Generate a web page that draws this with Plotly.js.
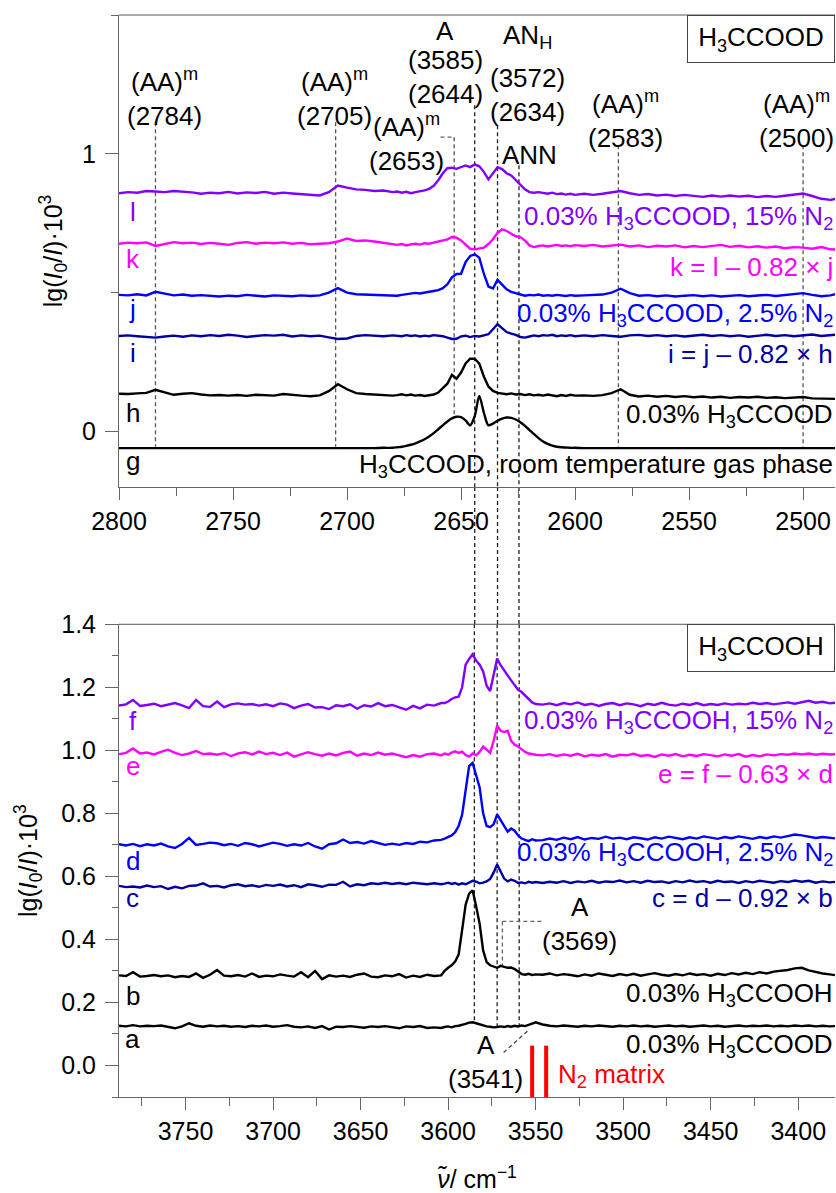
<!DOCTYPE html>
<html>
<head>
<meta charset="utf-8">
<script src="https://cdn.plot.ly/plotly-3.0.1.min.js"></script>
<style>html,body{margin:0;padding:0;background:#fff;}#chart{width:836px;height:1193px;}</style>
</head>
<body>
<div id="chart"></div>
<script>
// ---------- wavenumber grids (cm^-1) ----------
const WN_TOP = [2800,2796,2792,2788,2784,2780,2776,2772,2768,2764,2760,2756,2752,2748,2744,2740,2736,2732,2728,2724,2720,2716,2712,2708,2704,2700,2696,2692,2688,2684,2680,
  2678,2676,2674,2672,2670,2668,2666,2664,2662,2660,2658,2656,2654,2652,2650,2648,2646,2644,2642,2640,2638,2636,2634,2632,2630,2628,2626,2624,2622,2620,2618,2616,2614,2612,2610,2608,2606,2604,2602,2600,
  2596,2592,2588,2584,2580,2576,2572,2568,2564,2560,2556,2552,2548,2544,2540,2536,2532,2528,2524,2520,2516,2512,2508,2504,2500,2496,2492,2488,2484];
const WN_BOT = [3788,3784,3780,3776,3772,3768,3764,3760,3756,3752,3748,3744,3740,3736,3732,3728,3724,3720,3716,3712,3708,3704,3700,3696,3692,3688,3684,3680,3676,3672,3668,3664,3660,3656,3652,3648,3644,3640,3636,3632,3628,3624,3620,3616,3612,3608,3604,
  3602,3600,3598,3596,3594,3592,3590,3588,3586,3584,3582,3580,3578,3576,3574,3572,3570,3568,3566,3564,3562,3560,3558,3556,3554,3552,3550,
  3546,3542,3538,3534,3530,3526,3522,3518,3514,3510,3506,3502,3498,3494,3490,3486,3482,3478,3474,3470,3466,3462,3458,3454,3450,3446,3442,3438,3434,3430,3426,3422,3418,3414,3410,3406,3402,3398,3394,3390,3386,3382,3378];

// ---------- H3CCOOD spectra (top panel) ----------
const SPEC_L = [0.858,0.862,0.860,0.866,0.864,0.862,0.866,0.864,0.861,0.856,0.860,0.858,0.863,0.857,0.861,0.859,0.863,0.856,0.860,0.857,0.855,0.853,0.850,0.862,0.886,0.878,0.872,0.870,0.866,0.868,0.862,
  0.864,0.860,0.863,0.858,0.862,0.865,0.868,0.874,0.885,0.905,0.930,0.948,0.950,0.946,0.952,0.958,0.952,0.962,0.955,0.935,0.908,0.930,0.952,0.945,0.930,0.922,0.905,0.890,0.872,0.862,0.860,0.862,0.858,0.856,0.860,0.855,0.857,0.853,0.856,0.852,
  0.856,0.852,0.856,0.862,0.866,0.858,0.852,0.855,0.850,0.853,0.848,0.852,0.849,0.845,0.850,0.846,0.850,0.846,0.849,0.844,0.848,0.845,0.849,0.852,0.857,0.848,0.838,0.834,0.840];
const SPEC_K = [0.676,0.680,0.678,0.681,0.668,0.676,0.682,0.678,0.680,0.675,0.679,0.676,0.672,0.679,0.682,0.676,0.680,0.678,0.681,0.676,0.679,0.674,0.677,0.678,0.684,0.695,0.686,0.688,0.684,0.680,0.676,
  0.672,0.675,0.670,0.674,0.676,0.673,0.678,0.676,0.680,0.682,0.688,0.692,0.700,0.698,0.688,0.672,0.658,0.656,0.658,0.662,0.675,0.692,0.715,0.728,0.722,0.712,0.703,0.700,0.688,0.670,0.664,0.668,0.670,0.666,0.669,0.672,0.668,0.670,0.667,0.671,
  0.668,0.672,0.666,0.670,0.673,0.666,0.670,0.664,0.669,0.666,0.670,0.663,0.668,0.664,0.669,0.672,0.665,0.669,0.663,0.667,0.662,0.666,0.660,0.664,0.662,0.658,0.664,0.656,0.655];
const SPEC_J = [0.492,0.490,0.494,0.490,0.503,0.496,0.490,0.493,0.489,0.491,0.488,0.486,0.489,0.487,0.492,0.488,0.486,0.490,0.489,0.487,0.490,0.488,0.490,0.500,0.516,0.500,0.494,0.493,0.490,0.491,0.488,
  0.489,0.492,0.494,0.496,0.499,0.497,0.501,0.503,0.506,0.509,0.516,0.530,0.555,0.567,0.568,0.610,0.632,0.638,0.626,0.568,0.522,0.515,0.546,0.528,0.512,0.503,0.499,0.493,0.489,0.492,0.490,0.493,0.489,0.491,0.489,0.492,0.490,0.488,0.491,0.489,
  0.490,0.492,0.493,0.500,0.514,0.498,0.489,0.491,0.487,0.490,0.486,0.489,0.491,0.487,0.490,0.486,0.488,0.491,0.487,0.489,0.492,0.488,0.491,0.494,0.498,0.492,0.487,0.490,0.498];
const SPEC_I = [0.344,0.346,0.343,0.340,0.338,0.342,0.345,0.341,0.346,0.343,0.347,0.344,0.348,0.345,0.340,0.344,0.347,0.345,0.348,0.342,0.346,0.343,0.345,0.339,0.333,0.335,0.344,0.347,0.345,0.343,0.346,
  0.345,0.343,0.347,0.344,0.346,0.342,0.345,0.343,0.347,0.345,0.343,0.338,0.333,0.334,0.342,0.345,0.340,0.344,0.342,0.346,0.350,0.368,0.386,0.372,0.358,0.352,0.348,0.340,0.338,0.342,0.346,0.343,0.347,0.345,0.348,0.343,0.346,0.344,0.347,0.343,
  0.346,0.343,0.347,0.344,0.341,0.346,0.348,0.344,0.347,0.343,0.346,0.342,0.345,0.348,0.344,0.347,0.343,0.346,0.341,0.345,0.348,0.344,0.347,0.343,0.346,0.349,0.344,0.347,0.350];
const SPEC_H = [0.136,0.135,0.137,0.139,0.150,0.140,0.132,0.136,0.138,0.133,0.130,0.131,0.129,0.131,0.128,0.132,0.130,0.129,0.135,0.131,0.129,0.127,0.130,0.145,0.170,0.152,0.138,0.135,0.133,0.132,0.129,
  0.131,0.134,0.130,0.133,0.129,0.131,0.128,0.130,0.133,0.140,0.155,0.172,0.204,0.190,0.212,0.245,0.262,0.262,0.244,0.198,0.162,0.146,0.139,0.136,0.134,0.137,0.133,0.135,0.131,0.134,0.130,0.132,0.129,0.133,0.130,0.127,0.131,0.128,0.132,0.129,
  0.130,0.128,0.131,0.138,0.152,0.132,0.126,0.129,0.125,0.128,0.124,0.127,0.123,0.126,0.122,0.125,0.121,0.124,0.122,0.125,0.121,0.123,0.120,0.122,0.124,0.119,0.118,0.117,0.117];
const SPEC_G = [-0.060,-0.060,-0.060,-0.060,-0.060,-0.060,-0.060,-0.060,-0.060,-0.060,-0.060,-0.060,-0.060,-0.060,-0.060,-0.060,-0.060,-0.060,-0.060,-0.060,-0.060,-0.060,-0.060,-0.060,-0.060,-0.060,-0.060,-0.060,-0.060,-0.059,-0.059,
  -0.057,-0.055,-0.052,-0.048,-0.043,-0.036,-0.028,-0.018,-0.006,0.008,0.022,0.036,0.047,0.053,0.052,0.040,0.022,0.055,0.128,0.068,0.022,0.028,0.038,0.046,0.050,0.049,0.043,0.033,0.020,0.005,-0.010,-0.024,-0.036,-0.045,-0.051,-0.055,-0.057,-0.058,-0.059,-0.059,
  -0.060,-0.060,-0.060,-0.060,-0.060,-0.060,-0.060,-0.060,-0.060,-0.060,-0.060,-0.060,-0.060,-0.060,-0.060,-0.060,-0.060,-0.060,-0.060,-0.060,-0.060,-0.060,-0.060,-0.060,-0.060,-0.060,-0.060,-0.060,-0.060];

// ---------- H3CCOOH spectra (bottom panel) ----------
const SPEC_F = [1.142,1.146,1.160,1.141,1.144,1.148,1.140,1.145,1.150,1.143,1.134,1.160,1.140,1.138,1.155,1.137,1.146,1.149,1.145,1.147,1.142,1.146,1.140,1.149,1.145,1.134,1.142,1.147,1.136,1.137,1.131,1.143,1.140,1.146,1.132,1.143,1.139,1.150,1.140,1.144,1.137,1.129,1.141,1.133,1.145,1.142,1.150,
  1.150,1.155,1.163,1.168,1.170,1.200,1.272,1.290,1.305,1.285,1.272,1.250,1.205,1.188,1.245,1.291,1.270,1.252,1.238,1.222,1.205,1.192,1.185,1.175,1.162,1.152,1.147,
  1.145,1.149,1.143,1.150,1.146,1.152,1.144,1.148,1.141,1.147,1.150,1.143,1.149,1.146,1.140,1.148,1.144,1.151,1.145,1.142,1.148,1.144,1.150,1.143,1.147,1.144,1.149,1.145,1.148,1.146,1.151,1.147,1.150,1.146,1.149,1.152,1.148,1.153,1.157,1.151,1.154,1.149,1.152];
const SPEC_E = [0.988,0.992,1.006,0.990,0.993,0.987,0.995,1.002,0.992,0.985,0.990,0.998,0.988,0.990,0.986,0.991,0.982,0.990,0.994,0.987,0.996,0.988,0.992,0.985,0.993,0.980,0.987,0.994,0.988,0.983,0.990,0.984,0.992,0.996,0.983,0.990,0.985,0.993,0.986,0.990,0.984,0.978,0.985,0.980,0.988,0.990,0.984,
  0.990,0.986,0.993,0.997,0.992,0.996,0.985,0.980,0.990,0.984,0.995,1.012,1.002,0.992,1.030,1.078,1.062,1.058,1.062,1.030,1.018,1.012,1.003,0.995,0.990,0.987,0.986,
  0.984,0.988,0.982,0.987,0.983,0.989,0.981,0.986,0.983,0.988,0.980,0.986,0.984,0.989,0.982,0.985,0.979,0.987,0.983,0.988,0.981,0.986,0.982,0.988,0.985,0.981,0.987,0.983,0.988,0.980,0.985,0.981,0.987,0.984,0.988,0.986,0.990,0.987,0.990,0.986,0.989,0.987,0.988];
const SPEC_D = [0.702,0.698,0.703,0.696,0.702,0.698,0.704,0.695,0.690,0.703,0.722,0.700,0.703,0.707,0.705,0.699,0.703,0.697,0.706,0.702,0.695,0.700,0.707,0.703,0.697,0.702,0.698,0.706,0.695,0.688,0.702,0.705,0.717,0.706,0.709,0.704,0.712,0.706,0.700,0.704,0.700,0.706,0.703,0.710,0.708,0.714,0.716,
  0.720,0.726,0.730,0.740,0.760,0.796,0.880,0.950,0.960,0.920,0.882,0.800,0.760,0.756,0.765,0.797,0.778,0.762,0.742,0.752,0.745,0.730,0.720,0.716,0.712,0.718,0.714,
  0.715,0.720,0.716,0.723,0.718,0.725,0.717,0.722,0.719,0.726,0.720,0.723,0.718,0.724,0.721,0.717,0.724,0.720,0.726,0.721,0.718,0.724,0.720,0.727,0.722,0.719,0.725,0.721,0.727,0.722,0.719,0.725,0.721,0.727,0.723,0.728,0.733,0.730,0.726,0.722,0.725,0.723,0.720];
const SPEC_C = [0.570,0.566,0.568,0.565,0.571,0.566,0.569,0.560,0.567,0.562,0.570,0.571,0.578,0.568,0.570,0.565,0.572,0.575,0.569,0.572,0.567,0.573,0.570,0.574,0.568,0.572,0.566,0.575,0.572,0.567,0.574,0.573,0.583,0.568,0.575,0.572,0.578,0.576,0.580,0.576,0.579,0.575,0.580,0.577,0.575,0.578,0.575,
  0.577,0.580,0.576,0.579,0.574,0.578,0.575,0.581,0.586,0.583,0.578,0.580,0.584,0.592,0.612,0.638,0.614,0.593,0.584,0.590,0.586,0.579,0.581,0.578,0.583,0.580,0.582,
  0.579,0.583,0.580,0.585,0.579,0.584,0.581,0.586,0.580,0.584,0.582,0.587,0.581,0.585,0.580,0.586,0.582,0.584,0.579,0.585,0.581,0.587,0.582,0.585,0.580,0.586,0.582,0.584,0.579,0.585,0.581,0.586,0.583,0.580,0.585,0.582,0.587,0.583,0.586,0.580,0.584,0.581,0.583];
const SPEC_B = [0.286,0.284,0.296,0.282,0.284,0.287,0.283,0.286,0.280,0.284,0.281,0.292,0.278,0.288,0.303,0.285,0.283,0.287,0.282,0.292,0.281,0.285,0.283,0.289,0.285,0.282,0.296,0.280,0.300,0.274,0.286,0.282,0.285,0.281,0.288,0.292,0.282,0.280,0.286,0.283,0.290,0.279,0.285,0.281,0.288,0.284,0.286,
  0.300,0.310,0.318,0.330,0.352,0.430,0.510,0.545,0.556,0.505,0.450,0.365,0.328,0.318,0.313,0.310,0.316,0.314,0.310,0.311,0.306,0.298,0.290,0.288,0.291,0.287,0.289,
  0.288,0.292,0.286,0.290,0.287,0.283,0.289,0.285,0.292,0.287,0.284,0.290,0.286,0.291,0.285,0.289,0.293,0.288,0.285,0.290,0.286,0.292,0.287,0.290,0.285,0.291,0.287,0.293,0.289,0.294,0.290,0.296,0.292,0.298,0.300,0.303,0.308,0.310,0.302,0.296,0.292,0.289,0.286];
const SPEC_A = [0.126,0.124,0.128,0.124,0.126,0.125,0.127,0.123,0.118,0.124,0.134,0.126,0.123,0.127,0.124,0.126,0.123,0.125,0.122,0.126,0.124,0.127,0.123,0.125,0.128,0.123,0.121,0.124,0.119,0.125,0.114,0.123,0.122,0.125,0.123,0.120,0.124,0.122,0.125,0.121,0.118,0.124,0.122,0.125,0.119,0.121,0.119,
  0.122,0.124,0.121,0.125,0.126,0.128,0.132,0.136,0.137,0.134,0.130,0.127,0.124,0.123,0.121,0.122,0.124,0.122,0.125,0.123,0.126,0.124,0.127,0.125,0.128,0.133,0.137,
  0.130,0.126,0.124,0.127,0.125,0.123,0.126,0.124,0.127,0.125,0.123,0.126,0.124,0.127,0.124,0.126,0.123,0.125,0.127,0.124,0.126,0.123,0.125,0.127,0.124,0.126,0.123,0.125,0.127,0.124,0.126,0.125,0.127,0.124,0.126,0.124,0.127,0.125,0.127,0.124,0.126,0.124,0.125];

// ---------- marker lines (wavenumbers) ----------
const TOP_MARKS = [2784, 2705, 2581, 2500];        // (AA)m dashed guides
const SHARED_TOP = [2644, 2634, 2624.6];            // guides continuing into lower panel
const SHARED_BOT = [3585, 3572, 3559.4];
const N2_LINES = [3552, 3544];

// ---------- styling ----------
const PURPLE = '#8000FF', MAGENTA = '#FF00FF', BLUE = '#0000FF', NAVY = '#0000A0', BLACK = '#000000';
const FONT = 'Liberation Sans, Arial, Helvetica, sans-serif';
const FS = 25;      // tick labels and axis titles
const FA = 26;      // annotations
const TOP_DOMAIN = [0.5638, 1];
const BOT_DOMAIN = [0, 0.4369];
const DASH = '4px,3px';

function tr(x, y, color, xa, ya, smooth) {
  return {x: x, y: y, type: 'scatter', mode: 'lines', xaxis: xa, yaxis: ya, hoverinfo: 'skip',
    line: {color: color, width: 2.4, shape: smooth ? 'spline' : 'linear', smoothing: 0.8}};
}
const data = [
  tr(WN_TOP, SPEC_G, BLACK, 'x', 'y', true),
  tr(WN_TOP, SPEC_H, BLACK, 'x', 'y'),
  tr(WN_TOP, SPEC_I, NAVY, 'x', 'y'),
  tr(WN_TOP, SPEC_J, BLUE, 'x', 'y'),
  tr(WN_TOP, SPEC_K, MAGENTA, 'x', 'y'),
  tr(WN_TOP, SPEC_L, PURPLE, 'x', 'y'),
  tr(WN_BOT, SPEC_A, BLACK, 'x2', 'y2'),
  tr(WN_BOT, SPEC_B, BLACK, 'x2', 'y2'),
  tr(WN_BOT, SPEC_C, NAVY, 'x2', 'y2'),
  tr(WN_BOT, SPEC_D, BLUE, 'x2', 'y2'),
  tr(WN_BOT, SPEC_E, MAGENTA, 'x2', 'y2'),
  tr(WN_BOT, SPEC_F, PURPLE, 'x2', 'y2')
];

function seg(xref, yref, x0, y0, x1, y1, color, width, dash, layer) {
  return {type: 'line', xref: xref, yref: yref, x0: x0, y0: y0, x1: x1, y1: y1,
    layer: layer || 'below', line: {color: color, width: width, dash: dash}};
}
const shapes = [];
// top-panel guides
const topStart = [1.114, 1.114, 1.031, 1.031];
TOP_MARKS.forEach((w, k) => shapes.push(seg('x', 'y', w, topStart[k], w, -0.055, '#555', 1.3, DASH)));
shapes.push(seg('x', 'y', 2659, 1.06, 2653, 1.06, '#666', 1.3, DASH));
shapes.push(seg('x', 'y', 2653, 1.06, 2653, 0.054, '#555', 1.3, DASH));
const sharedStart = [1.175, 1.103, 0.959];
const sharedEnd = [0.137, 0.125, 0.127];
SHARED_TOP.forEach((w, k) => {
  shapes.push(seg('x', 'y', w, sharedStart[k], w, -0.2, '#222', 1.3, DASH));
  shapes.push(seg('x', 'paper', w, TOP_DOMAIN[0], w, BOT_DOMAIN[1], '#222', 1.3, DASH));
  shapes.push(seg('x2', 'y2', SHARED_BOT[k], 1.4, SHARED_BOT[k], sharedEnd[k], '#222', 1.3, DASH));
});
// A (3569) bracket and A (3541) leader
shapes.push(seg('x2', 'y2', 3569, 0.457, 3545.3, 0.457, '#666', 1.3, DASH));
shapes.push(seg('x2', 'y2', 3569, 0.457, 3569, 0.318, '#666', 1.3, DASH));
shapes.push(seg('x2', 'y2', 3568.3, 0.041, 3554.3, 0.111, '#444', 1.3, DASH));
// N2 matrix bars
N2_LINES.forEach(w => shapes.push(seg('x2', 'y2', w, -0.1, w, 0.063, '#FF0000', 4, 'solid', 'above')));
// frame tops
shapes.push(seg('x domain', 'y domain', 0, 1, 1, 1, '#aaaaaa', 2, 'solid', 'above'));
shapes.push(seg('x2 domain', 'y2 domain', 0, 1, 1, 1, '#555555', 1, 'solid', 'above'));

function ann(text, xref, yref, x, y, color, xanchor, extra) {
  return Object.assign({text: text, xref: xref, yref: yref, x: x, y: y, showarrow: false,
    xanchor: xanchor || 'center', yanchor: 'middle', font: {family: FONT, size: FA, color: color || BLACK}}, extra || {});
}
const annotations = [
  // top labels
  ann('(AA)<sup>m</sup><br>(2784)', 'x', 'y', 2780, 1.202),
  ann('(AA)<sup>m</sup><br>(2705)', 'x', 'y', 2705.4, 1.202),
  ann('(AA)<sup>m</sup><br>(2653)', 'x', 'y', 2674, 1.042),
  ann('A', 'x', 'y', 2657, 1.443),
  ann('(3585)<br>(2644)', 'x', 'y', 2657, 1.276),
  ann('AN<sub>H</sub>', 'x', 'y', 2620.7, 1.422),
  ann('(3572)<br>(2634)', 'x', 'y', 2621, 1.211),
  ann('ANN', 'x', 'y', 2620, 0.995),
  ann('(AA)<sup>m</sup><br>(2583)', 'x', 'y', 2577.8, 1.125),
  ann('(AA)<sup>m</sup><br>(2500)', 'x', 'y', 2503, 1.125),
  ann('l', 'x', 'y', 2794, 0.790, PURPLE),
  ann('k', 'x', 'y', 2794, 0.621, MAGENTA),
  ann('j', 'x', 'y', 2794, 0.441, BLUE),
  ann('i', 'x', 'y', 2794, 0.283, NAVY),
  ann('h', 'x', 'y', 2794, 0.067, BLACK),
  ann('g', 'x', 'y', 2794, -0.105, BLACK),
  ann('0.03% H<sub>3</sub>CCOOD, 15% N<sub>2</sub>', 'paper', 'y', 1, 0.769, PURPLE, 'right'),
  ann('k = l – 0.82 × j', 'paper', 'y', 1, 0.592, MAGENTA, 'right'),
  ann('0.03% H<sub>3</sub>CCOOD, 2.5% N<sub>2</sub>', 'paper', 'y', 1, 0.423, BLUE, 'right'),
  ann('i = j – 0.82 × h', 'paper', 'y', 1, 0.279, NAVY, 'right'),
  ann('0.03% H<sub>3</sub>CCOOD', 'paper', 'y', 1, 0.056, BLACK, 'right'),
  ann('H<sub>3</sub>CCOOD, room temperature gas phase', 'paper', 'y', 1, -0.124, BLACK, 'right'),
  ann('H<sub>3</sub>CCOOD', 'paper', 'paper', 1, TOP_DOMAIN[1], BLACK, 'right',
      {yanchor: 'top', bordercolor: '#444', borderwidth: 1, borderpad: 0, bgcolor: '#fff', width: 146, height: 46}),
  // bottom labels
  ann('f', 'x2', 'y2', 3780.2, 1.092, PURPLE),
  ann('e', 'x2', 'y2', 3780.2, 0.949, MAGENTA),
  ann('d', 'x2', 'y2', 3780.2, 0.648, BLUE),
  ann('c', 'x2', 'y2', 3780.2, 0.530, NAVY),
  ann('b', 'x2', 'y2', 3780.2, 0.222, BLACK),
  ann('a', 'x2', 'y2', 3780.2, 0.083, BLACK),
  ann('0.03% H<sub>3</sub>CCOOH, 15% N<sub>2</sub>', 'paper', 'y2', 1, 1.092, PURPLE, 'right'),
  ann('e = f – 0.63 × d', 'paper', 'y2', 1, 0.924, MAGENTA, 'right'),
  ann('0.03% H<sub>3</sub>CCOOH, 2.5% N<sub>2</sub>', 'paper', 'y2', 1, 0.673, BLUE, 'right'),
  ann('c = d – 0.92 × b', 'paper', 'y2', 1, 0.530, NAVY, 'right'),
  ann('0.03% H<sub>3</sub>CCOOH', 'paper', 'y2', 1, 0.225, BLACK, 'right'),
  ann('0.03% H<sub>3</sub>CCOOD', 'paper', 'y2', 1, 0.063, BLACK, 'right'),
  ann('A<br>(3569)', 'x2', 'y2', 3524.7, 0.448),
  ann('A<br>(3541)', 'x2', 'y2', 3578.4, 0.011),
  ann('N<sub>2</sub> matrix', 'x2', 'y2', 3538.1, -0.032, '#FF0000', 'left'),
  ann('H<sub>3</sub>CCOOH', 'paper', 'paper', 1, BOT_DOMAIN[1], BLACK, 'right',
      {yanchor: 'top', bordercolor: '#444', borderwidth: 1, borderpad: 0, bgcolor: '#fff', width: 146, height: 46})
];

const tickFont = {family: FONT, size: FS, color: BLACK};
function xAxis(range, anchor, extra) {
  return Object.assign({range: range, anchor: anchor, domain: [0, 1], dtick: 50, ticks: 'outside', ticklen: 12,
    tickcolor: '#666', tickwidth: 1, showline: true, linecolor: '#666', linewidth: 1, showgrid: false, zeroline: false,
    tickfont: tickFont, minor: {dtick: 25, ticks: 'outside', ticklen: 8, tickcolor: '#666', tickwidth: 1, showgrid: false}}, extra || {});
}
const yTitle = 'lg(<i>I</i><sub>0</sub>/<i>I</i>)·10<sup>3</sup>';
const layout = {
  width: 836, height: 1193, margin: {l: 119, r: 1, t: 15, b: 96},
  paper_bgcolor: '#fff', plot_bgcolor: '#fff', showlegend: false,
  font: {family: FONT, size: FS, color: BLACK},
  xaxis: xAxis([2800, 2486], 'y'),
  xaxis2: xAxis([3788, 3379], 'y2', {title: {text: '<i>ν̃</i>/ cm<sup>−1</sup>', font: {family: FONT, size: FS}, standoff: 41}}),
  yaxis: {domain: TOP_DOMAIN, range: [-0.2, 1.5], anchor: 'x', tick0: 0, dtick: 1, ticks: 'outside', ticklen: 13,
    tickcolor: '#666', showline: true, linecolor: '#666', linewidth: 1, showgrid: false, zeroline: false,
    tickfont: tickFont, ticklabelstandoff: 4,
    minor: {dtick: 0.5, ticks: 'outside', ticklen: 7, tickcolor: '#666', showgrid: false},
    title: {text: yTitle, font: {family: FONT, size: FS}, standoff: 12}},
  yaxis2: {domain: BOT_DOMAIN, range: [-0.1, 1.4], anchor: 'x2', tick0: 0, dtick: 0.2, tickformat: '.1f', ticks: 'outside', ticklen: 13,
    tickcolor: '#666', showline: true, linecolor: '#666', linewidth: 1, showgrid: false, zeroline: false,
    tickfont: tickFont, ticklabelstandoff: 4,
    minor: {dtick: 0.1, ticks: 'outside', ticklen: 6, tickcolor: '#666', showgrid: false},
    title: {text: yTitle, font: {family: FONT, size: FS}, standoff: 16}},
  shapes: shapes,
  annotations: annotations
};
Plotly.newPlot('chart', data, layout, {staticPlot: true, displayModeBar: false});
</script>
</body>
</html>
